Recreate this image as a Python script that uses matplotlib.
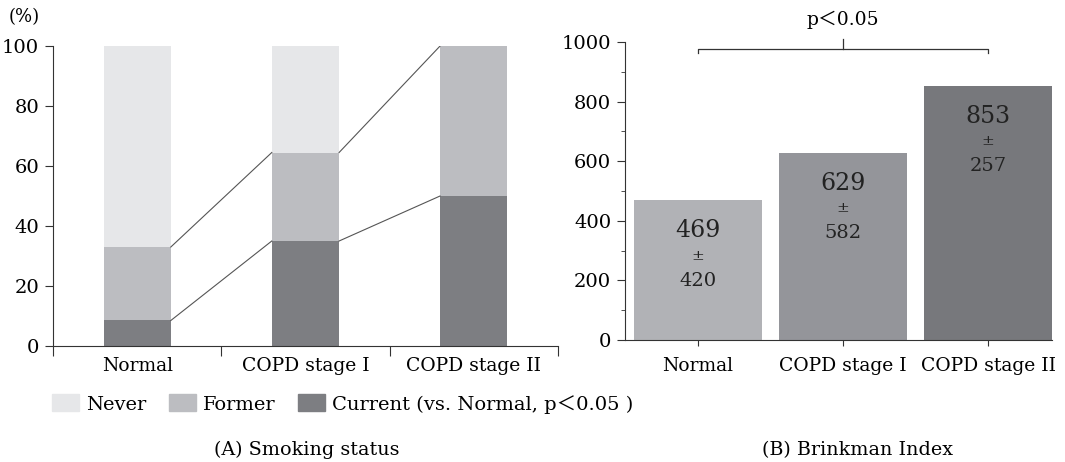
import numpy as np
import matplotlib
matplotlib.use("Agg")
import matplotlib.pyplot as plt
from matplotlib.patches import Patch
from matplotlib.ticker import MultipleLocator

plt.rcParams['font.family'] = ['DejaVu Serif', 'Noto Sans CJK JP']

# Data
groups = ["Normal", "COPD stage I", "COPD stage II"]
current = [8.5, 35.0, 50.0]
former = [24.5, 29.5, 50.0]
never = [67.0, 35.5, 0.0]

brinkman_mean = [469, 629, 853]
brinkman_sd = [420, 582, 257]

c_never = "#e6e7e9"
c_former = "#bcbdc1"
c_current = "#7d7e82"
c_bars = ["#b1b2b6", "#94959a", "#77787c"]
spine_col = "#333333"

fig = plt.figure(figsize=(10.65, 4.62), dpi=100)

# ---- (A) Smoking status ----
ax1 = fig.add_axes([0.0498, 0.2511, 0.474, 0.6493])
x = np.arange(len(groups))
w = 0.4
cur = np.array(current)
frm = np.array(former)
nev = np.array(never)
ax1.bar(x, cur, w, color=c_current)
ax1.bar(x, frm, w, bottom=cur, color=c_former)
ax1.bar(x, nev, w, bottom=cur + frm, color=c_never)

# connector lines between neighbouring bars
tops_cur = cur
tops_frm = cur + frm
for i in range(len(groups) - 1):
    for tops in (tops_cur, tops_frm):
        ax1.plot([x[i] + w / 2, x[i + 1] - w / 2], [tops[i], tops[i + 1]],
                 color="#555555", lw=0.8)

ax1.set_xlim(-0.5, 2.5)
ax1.set_ylim(0, 100)
ax1.set_yticks(np.arange(0, 101, 20))
ax1.set_xticks([-0.5, 0.5, 1.5, 2.5])
ax1.set_xticklabels([])
ax1.set_xticks(x, groups, minor=True)
ax1.tick_params(axis='x', which='minor', length=0, pad=8, labelsize=13.5)
ax1.tick_params(axis='x', which='major', length=7, direction='out', color=spine_col)
ax1.tick_params(axis='y', length=6, direction='out', color=spine_col, labelsize=14, pad=4)
for s in ("top", "right"):
    ax1.spines[s].set_visible(False)
for s in ("left", "bottom"):
    ax1.spines[s].set_color(spine_col)
fig.text(9 / 1065, 1 - 17 / 462, "(%)", fontsize=13, va="center", ha="left")

handles = [Patch(color=c_never, label="Never"),
           Patch(color=c_former, label="Former"),
           Patch(color=c_current, label="Current (vs. Normal, p＜0.05 )")]
fig.legend(handles=handles, loc="center left", bbox_to_anchor=(52 / 1065, 1 - 404 / 462),
           ncol=3, frameon=False, fontsize=14, handlelength=1.4, handleheight=0.95,
           handletextpad=0.35, columnspacing=1.15, borderaxespad=0, borderpad=0)

fig.text(307 / 1065, 1 - 450 / 462, "(A) Smoking status", ha="center", va="center",
         fontsize=13.8)

# ---- (B) Brinkman Index ----
ax2 = fig.add_axes([0.5869, 0.264, 0.401, 0.645])
ax2.bar(x, brinkman_mean, 0.88, color=c_bars)
for i, (m, sd) in enumerate(zip(brinkman_mean, brinkman_sd)):
    ax2.annotate(str(m), (x[i], m), xytext=(0, -22), textcoords="offset points",
                 ha="center", va="center", fontsize=17, color="#222222")
    ax2.annotate("±", (x[i], m), xytext=(0, -40), textcoords="offset points",
                 ha="center", va="center", fontsize=11, color="#222222")
    ax2.annotate(str(sd), (x[i], m), xytext=(0, -58), textcoords="offset points",
                 ha="center", va="center", fontsize=14, color="#222222")

ax2.set_xlim(-0.5, 2.44)
ax2.set_ylim(0, 1000)
ax2.yaxis.set_major_locator(MultipleLocator(200))
ax2.yaxis.set_minor_locator(MultipleLocator(100))
ax2.set_xticks(x, groups)
ax2.tick_params(axis='x', length=4, direction='out', color=spine_col, labelsize=13.5, pad=8)
ax2.tick_params(axis='y', which='major', length=6, direction='out', color=spine_col,
                labelsize=14, pad=4)
ax2.tick_params(axis='y', which='minor', length=3, direction='out', color=spine_col)
for s in ("top", "right"):
    ax2.spines[s].set_visible(False)
for s in ("left", "bottom"):
    ax2.spines[s].set_color(spine_col)

# significance bracket Normal vs COPD stage II
bk = "#333333"
ax2.plot([0, 0, 2, 2], [962, 975, 975, 962], color=bk, lw=0.9, clip_on=False)
ax2.plot([1, 1], [975, 1010], color=bk, lw=0.9, clip_on=False)
ax2.text(1, 1075, "p＜0.05", ha="center", va="center", fontsize=13.5)

fig.text(857 / 1065, 1 - 450 / 462, "(B) Brinkman Index", ha="center", va="center",
         fontsize=13.8)

fig.savefig("out.png", dpi=100)
